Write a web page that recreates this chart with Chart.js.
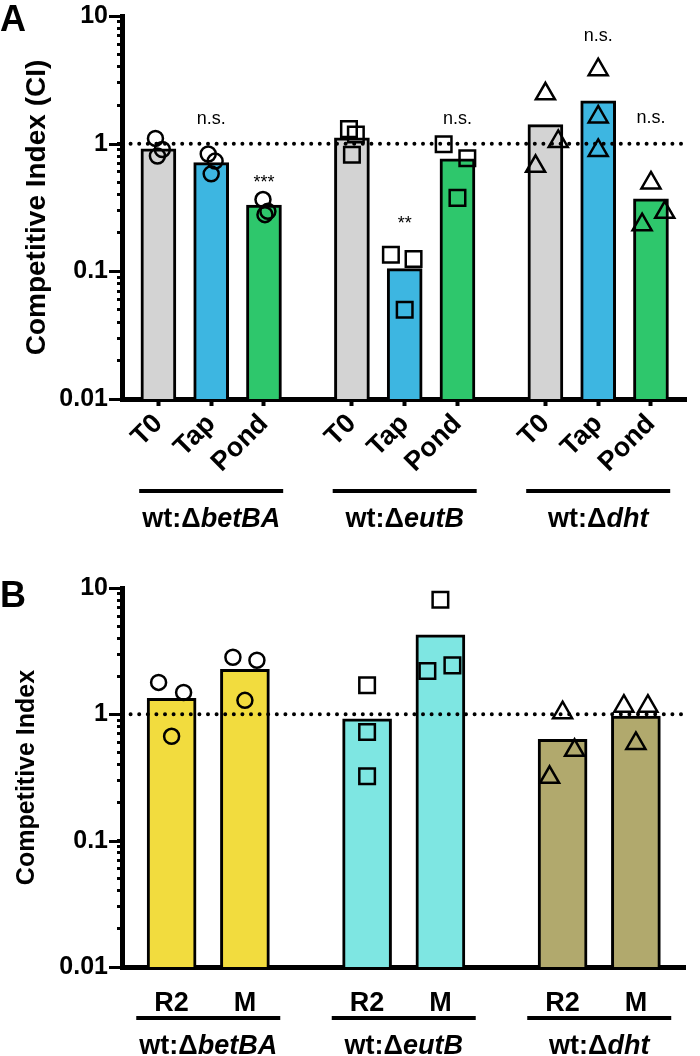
<!DOCTYPE html>
<html>
<head>
<meta charset="utf-8">
<script src="https://cdn.jsdelivr.net/npm/chart.js@4.4.1/dist/chart.umd.min.js"></script>
<style>
  html, body { margin: 0; padding: 0; background: #fff; }
  #wrap { position: relative; width: 700px; height: 1056px; }
  canvas { position: absolute; left: 0; }
  #chart-a { top: 0; }
  #chart-b { top: 540px; }
</style>
</head>
<body>
<div id="wrap">
  <canvas id="chart-a" width="700" height="540"></canvas>
  <canvas id="chart-b" width="700" height="516"></canvas>
</div>
<script>
const FONT = 'Arial, "Liberation Sans", Helvetica, sans-serif';

// ---- panel A data ----
const strainsA = ['betBA', 'eutB', 'dht'];
const conditionsA = ['T0', 'Tap', 'Pond'];
const ciA = [0.91, 0.71, 0.33, 1.11, 0.105, 0.76, 1.41, 2.17, 0.37];
const replicatesA = [
  [1.10, 0.90, 0.80],
  [0.83, 0.73, 0.58],
  [0.365, 0.295, 0.278],
  [1.30, 1.18, 0.82],
  [0.135, 0.125, 0.050],
  [0.99, 0.77, 0.376],
  [2.46, 1.04, 0.665],
  [3.80, 1.62, 0.886],
  [0.493, 0.29, 0.232],
];
const sigLabelsA = ['', 'n.s.', '***', '', '**', 'n.s.', '', 'n.s.', 'n.s.'];
const sigLevelsA = [null, 1.43, 0.45, null, 0.216, 1.43, null, 6.4, 1.46];

// ---- panel B data ----
const strainsB = ['betBA', 'eutB', 'dht'];
const conditionsB = ['R2', 'M'];
const ciB = [1.34, 2.27, 0.92, 4.25, 0.634, 0.97];
const replicatesB = [
  [1.79, 1.49, 0.67],
  [2.83, 2.68, 1.29],
  [1.70, 0.724, 0.324],
  [8.06, 2.20, 2.44],
  [1.03, 0.519, 0.317],
  [1.16, 1.16, 0.589],
];

const yTickValues = [0.01, 0.1, 1, 10];

// scatter spread of replicate symbols, px
const jitterA = [[-3, 4, -1], [-3, 4, 0], [-1, 4, 1], [-3, 4, 0], [-14, 9, 0], [-14, 10, 0], [0, 13, -10], [0, 0, 0], [0, 14, -9]];
const jitterB = [[-13, 12, 0], [-12, 12, 0], [0, 0, 0], [0, -13, 12], [0, 12, -13], [-12, 12, 0]];

const markers = ['circle', 'rect', 'triangle'];
const markerRadius = { circle: 7.5, rect: 11, triangle: 11 };
const conditionColorsA = ['#d3d3d3', '#3db6e1', '#2ec76c'];
const strainColorsB = ['#f2dc3e', '#7ee6e2', '#b1a96d'];

const logTicks = () => {
  const out = [];
  [0.01, 0.1, 1].forEach((d) => {
    for (let m = 1; m <= 9; m++) out.push({ value: +(m * d).toPrecision(3), major: m === 1 });
  });
  out.push({ value: 10, major: true });
  return out;
};

const groupPlugin = {
  id: 'groups',
  afterDraw(chart, args, opts) {
    const { ctx } = chart;
    const x = chart.scales.x;
    const y = chart.scales.y;
    ctx.save();
    // longer marks for the decades
    ctx.strokeStyle = '#000';
    ctx.lineWidth = 3;
    yTickValues.forEach((v) => {
      const py = Math.round(y.getPixelForValue(v)) + 0.5;
      ctx.beginPath();
      ctx.moveTo(chart.chartArea.left - 13, py);
      ctx.lineTo(chart.chartArea.left - 2, py);
      ctx.stroke();
    });
    // group underlines and names
    opts.strains.forEach((name, g) => {
      const first = x.getPixelForValue(opts.pos(g, 0));
      const last = x.getPixelForValue(opts.pos(g, opts.nCond - 1));
      const mid = (first + last) / 2;
      ctx.lineWidth = 4;
      ctx.beginPath();
      ctx.moveTo(mid - 72, opts.lineY);
      ctx.lineTo(mid + 72, opts.lineY);
      ctx.stroke();
      const fUp = `bold ${opts.nameSize}px ${FONT}`;
      const fIt = `italic bold ${opts.nameSize}px ${FONT}`;
      ctx.font = fUp;
      const w1 = ctx.measureText('wt:\u0394').width;
      ctx.font = fIt;
      const w2 = ctx.measureText(name).width;
      const x0 = mid - (w1 + w2) / 2;
      ctx.fillStyle = '#000';
      ctx.textBaseline = 'alphabetic';
      ctx.textAlign = 'left';
      ctx.font = fUp;
      ctx.fillText('wt:\u0394', x0, opts.textY);
      ctx.font = fIt;
      ctx.fillText(name, x0 + w1, opts.textY);
    });
    // significance marks
    if (opts.sigLabels) {
      ctx.font = `18px ${FONT}`;
      ctx.textAlign = 'center';
      opts.sigLabels.forEach((s, i) => {
        if (!s) return;
        const g = Math.floor(i / opts.nCond);
        const c = i % opts.nCond;
        ctx.fillText(s, x.getPixelForValue(opts.pos(g, c)), y.getPixelForValue(opts.sigLevels[i]));
      });
    }
    // panel letter
    ctx.font = `bold 36px ${FONT}`;
    ctx.textAlign = 'left';
    ctx.fillText(opts.letter, 0, opts.letterY);
    ctx.restore();
  },
};

const makePanel = (canvas, p) => {
  const nCond = p.conditions.length;
  const pos = (g, c) => g * p.groupStride + c * 3;
  const positions = [];
  const labels = [];
  p.strains.forEach((s, g) => p.conditions.forEach((c, ci) => {
    positions.push(pos(g, ci));
    labels.push(c);
  }));

  const datasets = [
    {
      type: 'bar',
      data: p.ci.map((v, i) => ({ x: positions[i], y: v })),
      backgroundColor: p.ci.map((v, i) => p.barColor(Math.floor(i / nCond), i % nCond)),
      borderColor: '#000',
      borderWidth: 3,
      barThickness: p.barWidth,
      order: 3,
    },
    {
      type: 'line',
      data: [{ x: p.xMin, y: 1 }, { x: p.xMax, y: 1 }],
      borderColor: '#000',
      borderWidth: 4,
      borderDash: [0, 8.6],
      borderCapStyle: 'round',
      pointRadius: 0,
      order: 2,
    },
  ];
  p.strains.forEach((s, g) => {
    const pts = [];
    p.conditions.forEach((c, ci) => {
      const i = g * nCond + ci;
      p.replicates[i].forEach((v, k) => {
        pts.push({ x: positions[i] + p.jitter[i][k] / p.unitPx, y: v });
      });
    });
    datasets.push({
      type: 'line',
      data: pts,
      showLine: false,
      pointStyle: markers[g],
      pointRadius: markerRadius[markers[g]],
      pointBorderWidth: 2.5,
      pointBorderColor: '#000',
      pointBackgroundColor: 'rgba(0,0,0,0)',
      order: 1,
    });
  });

  return new Chart(canvas, {
    type: 'bar',
    data: { datasets },
    plugins: [groupPlugin],
    options: {
      responsive: false,
      animation: false,
      devicePixelRatio: 1,
      layout: { padding: { top: p.padTop, right: p.padRight, left: 0, bottom: 0 } },
      plugins: {
        legend: { display: false },
        tooltip: { enabled: false },
        groups: {
          strains: p.strains, nCond, pos,
          lineY: p.lineY, textY: p.textY, nameSize: p.nameSize,
          sigLabels: p.sigLabels, sigLevels: p.sigLevels,
          letter: p.letter, letterY: p.letterY,
        },
      },
      scales: {
        x: {
          type: 'linear',
          min: p.xMin,
          max: p.xMax,
          offset: false,
          afterBuildTicks: (scale) => { scale.ticks = positions.map((v) => ({ value: v })); },
          afterFit: (scale) => {
            scale.height = p.xAxisHeight;
            scale.paddingLeft = 0;
            scale.paddingRight = 0;
          },
          ticks: {
            autoSkip: false,
            minRotation: p.rotation,
            maxRotation: p.rotation,
            padding: p.xPad,
            color: '#000',
            font: { family: FONT, size: 27, weight: 'bold' },
            callback: (v, i) => labels[i],
          },
          grid: {
            display: p.xTicks,
            offset: false,
            drawOnChartArea: false,
            tickLength: 7,
            tickWidth: 4,
            tickColor: '#000',
          },
          border: { display: true, color: '#000', width: 5 },
        },
        y: {
          type: 'logarithmic',
          min: 0.01,
          max: 10,
          afterBuildTicks: (scale) => { scale.ticks = logTicks(); },
          afterFit: (scale) => {
            scale.width = 122;
            scale.paddingTop = 0;
            scale.paddingBottom = 0;
          },
          ticks: {
            autoSkip: false,
            padding: 9,
            color: '#000',
            font: { family: FONT, size: 25, weight: 'bold' },
            callback: (v) => (yTickValues.includes(v) ? String(v) : ''),
          },
          grid: {
            drawOnChartArea: false,
            tickLength: 5,
            tickWidth: 3,
            tickColor: '#000',
          },
          border: { display: true, color: '#000', width: 5 },
          title: {
            display: true,
            text: p.yTitle,
            color: '#000',
            font: { family: FONT, size: p.yTitleSize, weight: 'bold' },
            padding: { top: p.yTitlePad, bottom: 0 },
          },
        },
      },
    },
  });
};

makePanel(document.getElementById('chart-a'), {
  strains: strainsA, conditions: conditionsA, ci: ciA, replicates: replicatesA,
  jitter: jitterA, unitPx: 17.857, groupStride: 11,
  barColor: (g, c) => conditionColorsA[c], barWidth: 35,
  xMin: -2.07, xMax: 30.02, padTop: 16, padRight: 5, xAxisHeight: 141,
  rotation: 45, xPad: 2, xTicks: true,
  lineY: 491, textY: 527, nameSize: 27,
  sigLabels: sigLabelsA, sigLevels: sigLevelsA,
  yTitle: 'Competitive Index (CI)', yTitleSize: 28, yTitlePad: 20,
  letter: 'A', letterY: 31,
});

makePanel(document.getElementById('chart-b'), {
  strains: strainsB, conditions: conditionsB, ci: ciB, replicates: replicatesB,
  jitter: jitterB, unitPx: 24.43, groupStride: 8,
  barColor: (g) => strainColorsB[g], barWidth: 49,
  xMin: -2.03, xMax: 21.01, padTop: 48, padRight: 15, xAxisHeight: 89,
  rotation: 0, xPad: 13, xTicks: false,
  lineY: 478, textY: 514, nameSize: 27,
  sigLabels: null, sigLevels: null,
  yTitle: 'Competitive Index', yTitleSize: 25, yTitlePad: 12,
  letter: 'B', letterY: 67,
});
</script>
</body>
</html>
